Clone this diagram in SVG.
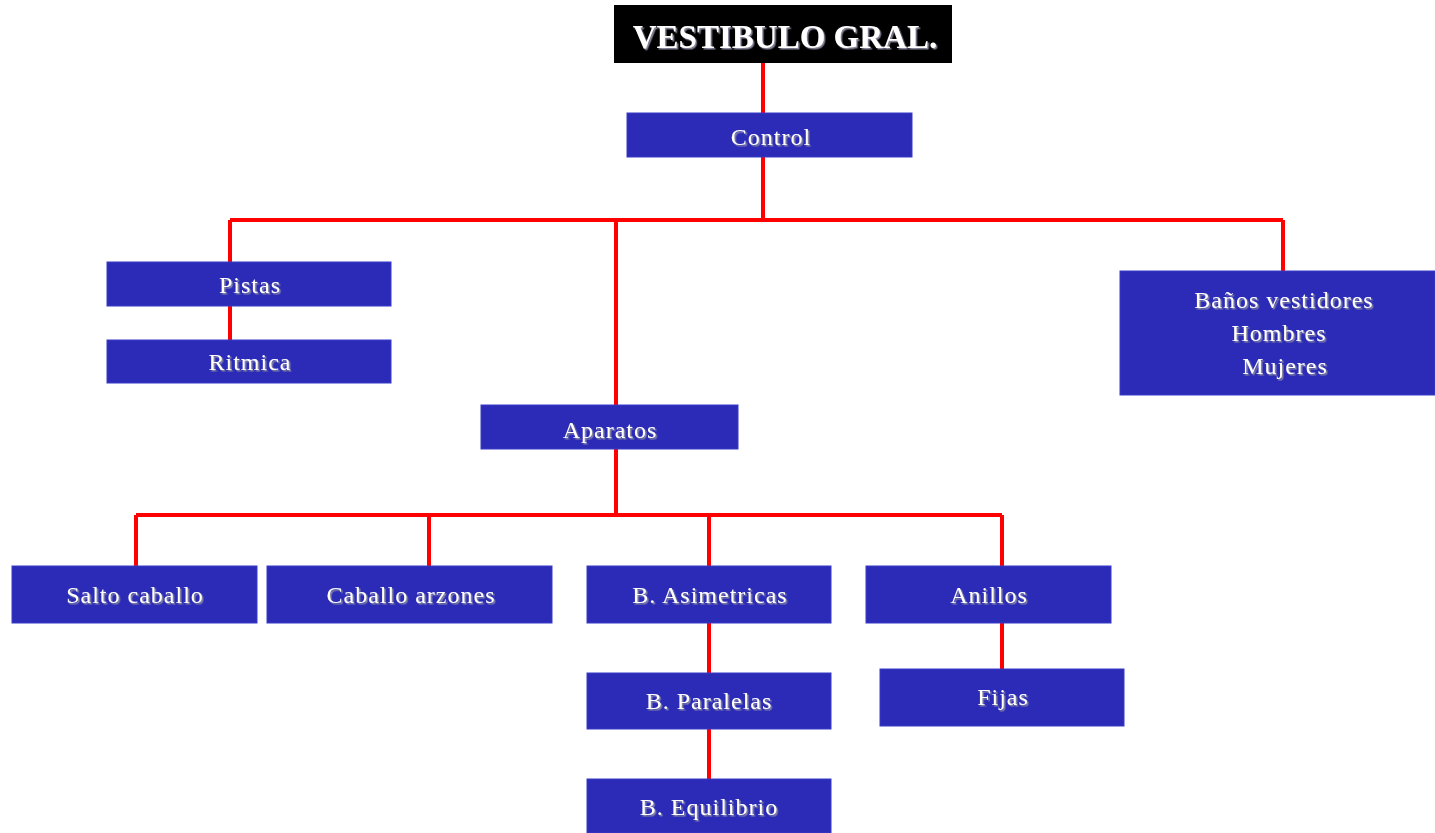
<svg xmlns="http://www.w3.org/2000/svg" width="1435" height="833" viewBox="0 0 1435 833">
<defs>
<filter id="sh" x="-10%" y="-30%" width="120%" height="160%">
<feDropShadow dx="1.5" dy="1.5" stdDeviation="0.7" flood-color="#8a8aa0" flood-opacity="1"/>
</filter>
<style>
.box{fill:#2b2bb8;stroke:#3a3ac8;stroke-width:1}
.t{font-family:"Liberation Serif","Times New Roman",serif;font-size:24px;letter-spacing:1px;fill:#ffffff;text-anchor:middle;filter:url(#sh)}
.title{font-family:"Liberation Serif","Times New Roman",serif;font-size:33px;font-weight:bold;fill:#ffffff;text-anchor:middle;filter:url(#sh)}
.c{stroke:#ff0000;stroke-width:4;fill:none}
</style>
</defs>
<rect width="1435" height="833" fill="#ffffff"/>
<g id="connectors">
<line class="c" x1="763" y1="63" x2="763" y2="113"/>
<line class="c" x1="763" y1="157" x2="763" y2="220"/>
<line class="c" x1="230" y1="220" x2="1283" y2="220"/>
<line class="c" x1="230" y1="220" x2="230" y2="340"/>
<line class="c" x1="1283" y1="220" x2="1283" y2="271"/>
<line class="c" x1="616" y1="220" x2="616" y2="405"/>
<line class="c" x1="616" y1="449" x2="616" y2="515"/>
<line class="c" x1="136" y1="515" x2="1002" y2="515"/>
<line class="c" x1="136" y1="515" x2="136" y2="566"/>
<line class="c" x1="429" y1="515" x2="429" y2="566"/>
<line class="c" x1="709" y1="515" x2="709" y2="566"/>
<line class="c" x1="1002" y1="515" x2="1002" y2="566"/>
<line class="c" x1="709" y1="623" x2="709" y2="779"/>
<line class="c" x1="1002" y1="623" x2="1002" y2="669"/>
</g>
<g id="n-vestibulo">
<rect x="614" y="5" width="338" height="58" fill="#000000"/>
<text class="title" x="785" y="48">VESTIBULO GRAL.</text>
</g>
<g id="n-control">
<rect class="box" x="627" y="113" width="285" height="44"/>
<text class="t" x="771" y="145">Control</text>
</g>
<g id="n-pistas">
<rect class="box" x="107" y="262" width="284" height="44"/>
<text class="t" x="250" y="293">Pistas</text>
</g>
<g id="n-ritmica">
<rect class="box" x="107" y="340" width="284" height="43"/>
<text class="t" x="250" y="370">Ritmica</text>
</g>
<g id="n-banos">
<rect class="box" x="1120" y="271" width="315" height="124"/>
<text class="t" x="1284" y="308">Baños vestidores</text>
<text class="t" x="1279" y="341">Hombres</text>
<text class="t" x="1285" y="374">Mujeres</text>
</g>
<g id="n-aparatos">
<rect class="box" x="481" y="405" width="257" height="44"/>
<text class="t" x="610" y="438">Aparatos</text>
</g>
<g id="n-salto">
<rect class="box" x="12" y="566" width="245" height="57"/>
<text class="t" x="135" y="603">Salto caballo</text>
</g>
<g id="n-caballo">
<rect class="box" x="267" y="566" width="285" height="57"/>
<text class="t" x="411" y="603">Caballo arzones</text>
</g>
<g id="n-asimetricas">
<rect class="box" x="587" y="566" width="244" height="57"/>
<text class="t" x="710" y="603">B. Asimetricas</text>
</g>
<g id="n-anillos">
<rect class="box" x="866" y="566" width="245" height="57"/>
<text class="t" x="989" y="603">Anillos</text>
</g>
<g id="n-paralelas">
<rect class="box" x="587" y="673" width="244" height="56"/>
<text class="t" x="709" y="709">B. Paralelas</text>
</g>
<g id="n-fijas">
<rect class="box" x="880" y="669" width="244" height="57"/>
<text class="t" x="1003" y="705">Fijas</text>
</g>
<g id="n-equilibrio">
<rect class="box" x="587" y="779" width="244" height="54"/>
<text class="t" x="709" y="815">B. Equilibrio</text>
</g>
</svg>
